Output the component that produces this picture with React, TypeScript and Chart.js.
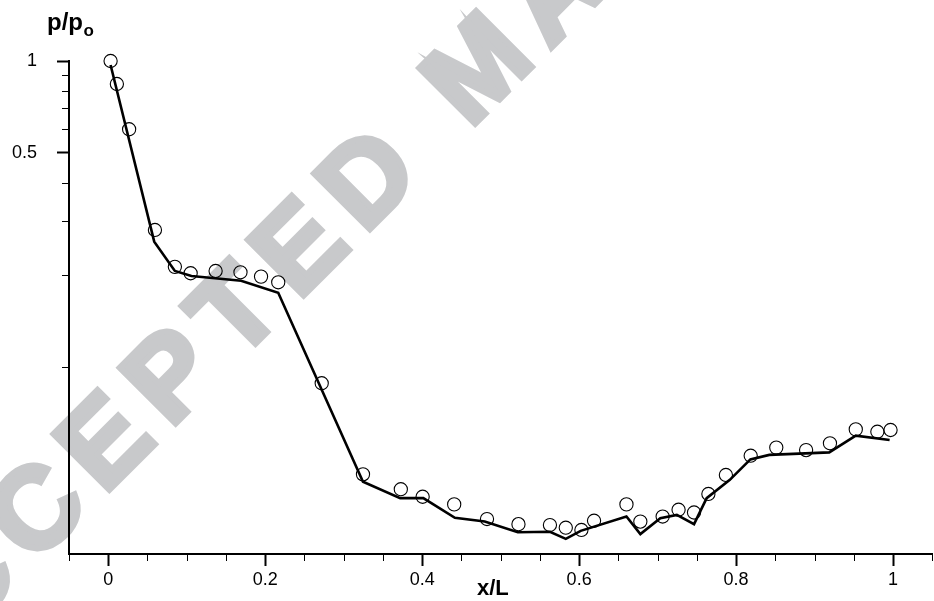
import { useEffect, useRef } from "react";
import { Chart, registerables } from "chart.js";

Chart.register(...registerables);

// Computed solution (solid line)
const LINE_X = [0.003, 0.0586, 0.0849, 0.106, 0.1693, 0.2166, 0.3246, 0.372, 0.4015, 0.4417, 0.4797, 0.5219, 0.5628, 0.583, 0.602, 0.6603, 0.678, 0.7034, 0.7245, 0.7464, 0.7625, 0.792, 0.8182, 0.8423, 0.9187, 0.9525, 0.9956];
const LINE_Y = [0.97, 0.2563, 0.2055, 0.198, 0.191, 0.1745, 0.042, 0.0371, 0.0371, 0.032, 0.0311, 0.0287, 0.0288, 0.0273, 0.029, 0.0323, 0.0283, 0.0319, 0.0327, 0.0305, 0.0371, 0.0426, 0.0497, 0.0514, 0.0524, 0.0594, 0.0575];

// Experimental data (open circles)
const EXP_X = [0.003, 0.011, 0.0266, 0.0595, 0.0849, 0.105, 0.1368, 0.1685, 0.1947, 0.2166, 0.272, 0.3246, 0.3728, 0.4006, 0.4408, 0.4826, 0.5227, 0.5628, 0.583, 0.6029, 0.619, 0.6603, 0.678, 0.7064, 0.7267, 0.7464, 0.7647, 0.787, 0.8186, 0.8512, 0.8892, 0.9196, 0.9525, 0.98, 0.9968];
const EXP_Y = [1.0, 0.841, 0.598, 0.28, 0.212, 0.202, 0.2055, 0.2035, 0.197, 0.1887, 0.0882, 0.0444, 0.0397, 0.0375, 0.0354, 0.0317, 0.0305, 0.0303, 0.0297, 0.0292, 0.0313, 0.0354, 0.0311, 0.0323, 0.034, 0.0333, 0.0383, 0.0442, 0.0511, 0.0543, 0.0533, 0.0561, 0.0623, 0.0612, 0.062];

const X_MAJOR = [0, 0.2, 0.4, 0.6, 0.8, 1];
const X_TICK_LABELS = ["0", "0.2", "0.4", "0.6", "0.8", "1"];
const X_MINOR = [-0.05, 0.05, 0.1, 0.15, 0.25, 0.3, 0.35, 0.45, 0.5, 0.55, 0.65, 0.7, 0.75, 0.85, 0.9, 0.95, 1.05];
const Y_MAJOR = [1, 0.5];
const Y_TICK_LABELS = ["1", "0.5"];
const Y_MINOR = [0.9, 0.8, 0.7, 0.6, 0.4, 0.3, 0.2, 0.1];

const X_TITLE = "x/L";
const Y_TITLE_MAIN = "p/p";
const Y_TITLE_SUB = "o";
const WATERMARK = "ACCEPTED MANUSCRIPT";

const FONT = "'Liberation Sans', Arial, sans-serif";

export default function App() {
  const ref = useRef<HTMLCanvasElement | null>(null);

  useEffect(() => {
    const canvas = ref.current;
    if (!canvas) return;

    const decor = {
      id: "decor",
      beforeDraw(chart: any) {
        const ctx = chart.ctx;
        ctx.save();
        ctx.fillStyle = "#ffffff";
        ctx.fillRect(0, 0, chart.width, chart.height);
        // watermark
        ctx.translate(-108.2, 707.4);
        ctx.rotate((-45 * Math.PI) / 180);
        ctx.font = `bold 115px ${FONT}`;
        ctx.fillStyle = "#c8c9cb";
        ctx.strokeStyle = "#c8c9cb";
        ctx.lineWidth = 6;
        ctx.lineJoin = "miter";
        ctx.textAlign = "left";
        ctx.textBaseline = "alphabetic";
        let pos = 0;
        for (const ch of WATERMARK) {
          if (ch !== " ") {
            ctx.fillText(ch, pos, 0);
            ctx.strokeText(ch, pos, 0);
          }
          pos += ctx.measureText(ch).width + 17;
        }
        ctx.restore();
      },
      afterDraw(chart: any) {
        const ctx = chart.ctx;
        const xs = chart.scales.x;
        const ys = chart.scales.y;
        const area = chart.chartArea;
        ctx.save();
        ctx.strokeStyle = "#000";
        ctx.lineWidth = 1;
        ctx.beginPath();
        X_MINOR.forEach((v) => {
          const px = Math.round(xs.getPixelForValue(v)) + 0.5;
          ctx.moveTo(px, area.bottom);
          ctx.lineTo(px, area.bottom + 7);
        });
        Y_MINOR.forEach((v) => {
          const py = Math.round(ys.getPixelForValue(v)) + 0.5;
          ctx.moveTo(area.left - 7, py);
          ctx.lineTo(area.left, py);
        });
        ctx.stroke();

        ctx.fillStyle = "#000";
        ctx.textAlign = "left";
        ctx.textBaseline = "alphabetic";
        ctx.font = `bold 24px ${FONT}`;
        ctx.fillText(Y_TITLE_MAIN, 47, 30);
        const w = ctx.measureText(Y_TITLE_MAIN).width;
        ctx.font = `bold 17px ${FONT}`;
        ctx.fillText(Y_TITLE_SUB, 47 + w + 0.5, 36);
        ctx.font = `bold 22px ${FONT}`;
        ctx.fillText(X_TITLE, 477, 595);
        ctx.restore();
      },
    };

    const chart = new Chart(canvas, {
      type: "line",
      data: {
        datasets: [
          {
            data: LINE_X.map((x, i) => ({ x, y: LINE_Y[i] })),
            borderColor: "#000",
            borderWidth: 2.6,
            pointRadius: 0,
            tension: 0,
            fill: false,
            clip: false as any,
          },
          {
            data: EXP_X.map((x, i) => ({ x, y: EXP_Y[i] })),
            showLine: false,
            borderColor: "#000",
            pointBorderColor: "#000",
            pointBackgroundColor: "rgba(0,0,0,0)",
            pointBorderWidth: 1.1,
            pointRadius: 6.6,
            clip: false as any,
          },
        ],
      },
      options: {
        animation: false,
        responsive: false,
        devicePixelRatio: 1,
        layout: { padding: { top: 61, right: 3, left: 0, bottom: 0 } },
        plugins: { legend: { display: false }, tooltip: { enabled: false } },
        scales: {
          x: {
            type: "linear",
            min: -0.05,
            max: 1.05,
            afterBuildTicks: (s: any) => {
              s.ticks = X_MAJOR.map((v) => ({ value: v }));
            },
            afterFit: (s: any) => {
              s.height = 47;
            },
            ticks: {
              callback: (_v: any, i: number) => X_TICK_LABELS[i],
              color: "#000",
              font: { family: FONT, size: 18 },
              padding: 3,
              maxRotation: 0,
              autoSkip: false,
            },
            grid: {
              drawOnChartArea: false,
              drawTicks: true,
              tickLength: 12,
              tickWidth: 2,
              tickColor: "#000",
            },
            border: { display: true, color: "#000", width: 2 },
          },
          y: {
            type: "logarithmic",
            min: 0.02436,
            max: 1,
            afterBuildTicks: (s: any) => {
              s.ticks = Y_MAJOR.map((v) => ({ value: v }));
            },
            afterFit: (s: any) => {
              s.width = 69;
            },
            ticks: {
              callback: (_v: any, i: number) => Y_TICK_LABELS[i],
              color: "#000",
              font: { family: FONT, size: 18 },
              padding: 20,
              autoSkip: false,
            },
            grid: {
              drawOnChartArea: false,
              drawTicks: true,
              tickLength: 12,
              tickWidth: 2,
              tickColor: "#000",
            },
            border: { display: true, color: "#000", width: 2 },
          },
        },
      },
      plugins: [decor],
    });

    return () => chart.destroy();
  }, []);

  return (
    <div
      style={{
        position: "fixed",
        left: 0,
        top: 0,
        width: 934,
        height: 601,
        overflow: "hidden",
        background: "#fff",
      }}
    >
      <canvas ref={ref} width={940} height={601} style={{ display: "block", width: 940, height: 601 }} />
    </div>
  );
}
